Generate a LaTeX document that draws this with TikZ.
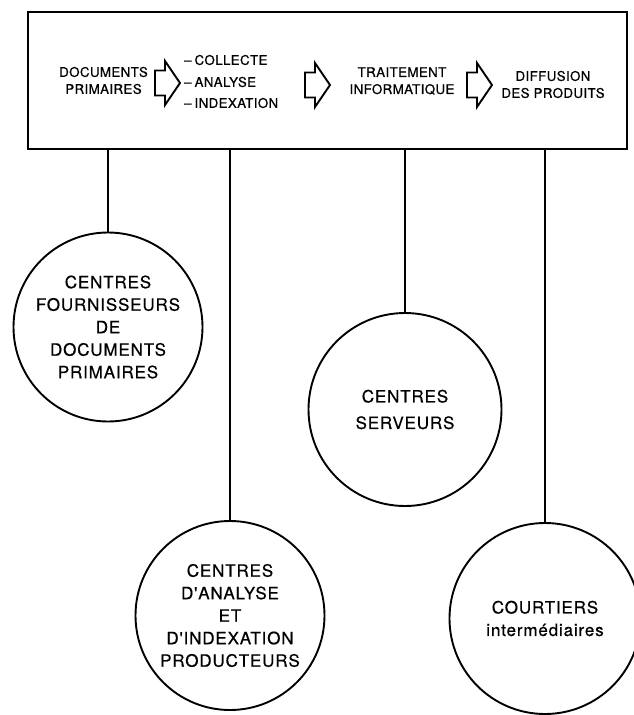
\documentclass[tikz,border=0pt]{standalone}
\usepackage{fontspec}
\setmainfont{TeX Gyre Heros}
\newfontfamily\boxfont[LetterSpace=3,FakeBold=0.6]{TeX Gyre Heros}
\newfontfamily\circfont[LetterSpace=5,FakeBold=0.6]{TeX Gyre Heros}
\begin{document}
\begin{tikzpicture}[x=1pt,y=-1pt,
  frame/.style={draw, line width=2.3pt, rectangle, minimum width=599pt, minimum height=137pt, inner sep=0pt},
  smalltext/.style={font=\boxfont\fontsize{13.3}{17}\selectfont, align=center, inner sep=0pt},
  itemtext/.style={font=\boxfont\fontsize{13.3}{17}\selectfont, anchor=west, inner sep=0pt},
  centre/.style={draw, circle, line width=1.9pt, inner sep=0pt, align=center,
    font=\circfont\fontsize{17}{22.5}\selectfont},
  link/.style={line width=1.9pt},
  pics/hollowarrow/.style={code={
    \draw[line width=1.9pt, line join=miter]
      (0,-12.5) -- (10,-12.5) -- (10,-22) -- (25,0) -- (10,22) -- (10,12.5) -- (0,12.5) -- cycle;
  }}]
\useasboundingbox (0,0) rectangle (633,715);

% process box
\node[frame] (box) at (327.5,80.5) {};

\node[smalltext, anchor=east] (docs) at (148,80.5) {DOCUMENTS\\PRIMAIRES};
\pic at (155,83) {hollowarrow};
\node[itemtext] (collecte) at (184,60) {–\kern3pt COLLECTE};
\node[itemtext] (analyse) at (184,82) {–\kern3pt ANALYSE};
\node[itemtext] (indexation) at (184,103) {–\kern3pt INDEXATION};
\pic at (305,85) {hollowarrow};
\node[smalltext] (traitement) at (402,81) {TRAITEMENT\\INFORMATIQUE};
\pic at (467,85) {hollowarrow};
\node[smalltext] (diffusion) at (553,84.5) {DIFFUSION\\DES PRODUITS};

% centres
\node[centre, minimum size=189pt] (fournisseurs) at (108,327)
  {CENTRES\\FOURNISSEURS\\DE\\DOCUMENTS\\PRIMAIRES};
\node[centre, minimum size=189pt] (analyseurs) at (230,615.5)
  {CENTRES\\D'ANALYSE\\ET\\D'INDEXATION\\PRODUCTEURS};
\node[centre, minimum size=193pt] (serveurs) at (405,409.5)
  {CENTRES\\[4pt]SERVEURS};
\node[centre, minimum size=191pt] (courtiers) at (545,618.5)
  {COURTIERS\\intermédiaires};

% links from the box to each centre
\draw[link] (box.south -| fournisseurs.north) -- (fournisseurs.north);
\draw[link] (box.south -| analyseurs.north) -- (analyseurs.north);
\draw[link] (box.south -| serveurs.north) -- (serveurs.north);
\draw[link] (box.south -| courtiers.north) -- (courtiers.north);
\end{tikzpicture}
\end{document}
